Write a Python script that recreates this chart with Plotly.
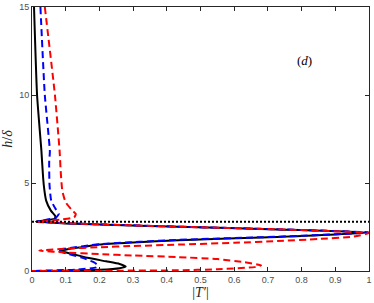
import plotly.graph_objects as go

# Black solid profile
black_x = [0.006, 0.015, 0.028, 0.033, 0.037, 0.042, 0.056, 0.068, 0.07, 0.05, 0.012, 0.03, 0.1, 0.2, 0.434, 0.728, 1.0,
           0.728, 0.434, 0.3, 0.2, 0.154, 0.105, 0.085, 0.115, 0.164, 0.22, 0.26, 0.278, 0.26, 0.2, 0.1, 0.0]
black_y = [15, 10, 6.8, 5.3, 4.55, 4.0, 3.43, 3.15, 3.0, 2.9, 2.81, 2.78, 2.7, 2.64, 2.51, 2.36, 2.18,
           1.93, 1.75, 1.62, 1.5, 1.37, 1.24, 1.14, 0.99, 0.75, 0.55, 0.4, 0.26, 0.16, 0.07, 0.02, 0.0]

# Blue dashed profile
blue_x = [0.025, 0.038, 0.053, 0.051, 0.052, 0.057, 0.071, 0.08, 0.072, 0.04, 0.015, 0.03, 0.1, 0.2, 0.434, 0.728, 1.0,
          0.728, 0.434, 0.2, 0.1, 0.075, 0.1, 0.15, 0.183, 0.195, 0.19, 0.13, 0.0]
blue_y = [15, 10, 6.8, 6.2, 4.9, 4.0, 3.5, 3.26, 3.05, 2.9, 2.82, 2.79, 2.72, 2.65, 2.52, 2.37, 2.19,
          1.95, 1.77, 1.52, 1.27, 1.18, 1.0, 0.75, 0.5, 0.33, 0.2, 0.08, 0.0]

# Red dashed profile
red_x = [0.038, 0.068, 0.082, 0.085, 0.09, 0.1, 0.12, 0.13, 0.125, 0.085, 0.03, 0.015, 0.1, 0.2, 0.434, 0.728, 1.0,
         0.95, 0.85, 0.728, 0.6, 0.434, 0.3, 0.2, 0.1, 0.022, 0.1, 0.2, 0.3, 0.434, 0.55, 0.63, 0.68, 0.66, 0.55,
         0.434, 0.2, 0.0]
red_y = [15, 10, 6.8, 5.7, 4.55, 3.9, 3.43, 3.24, 3.05, 2.92, 2.83, 2.79, 2.72, 2.65, 2.52, 2.37, 2.15,
         1.95, 1.82, 1.7, 1.6, 1.5, 1.42, 1.35, 1.27, 1.16, 1.05, 0.96, 0.88, 0.79, 0.68, 0.5, 0.32, 0.22, 0.1,
         0.04, 0.015, 0.0]

# Horizontal reference level
ref_level = 2.8
x_ticks = [0, 0.1, 0.2, 0.3, 0.4, 0.5, 0.6, 0.7, 0.8, 0.9, 1]
x_tick_labels = ["0", "0.1", "0.2", "0.3", "0.4", "0.5", "0.6", "0.7", "0.8", "0.9", "1"]
y_ticks = [0, 5, 10, 15]
y_tick_labels = ["0", "5", "10", "15"]

fig = go.Figure()
fig.add_trace(go.Scatter(x=black_x, y=black_y, mode="lines",
                         line=dict(color="black", width=2, shape="spline", smoothing=0.5)))
fig.add_trace(go.Scatter(x=blue_x, y=blue_y, mode="lines",
                         line=dict(color="#0000ff", width=2, dash="7px,4px", shape="spline", smoothing=0.5)))
fig.add_trace(go.Scatter(x=red_x, y=red_y, mode="lines",
                         line=dict(color="#ff0000", width=2, dash="7px,4px", shape="spline", smoothing=0.5)))
fig.add_trace(go.Scatter(x=[0, 1], y=[ref_level, ref_level], mode="lines",
                         line=dict(color="black", width=2, dash="2px,2px")))

axis_common = dict(showline=True, linecolor="#262626", linewidth=1, mirror="ticks", ticks="inside",
                   ticklen=4, tickcolor="#262626", showgrid=False, zeroline=False,
                   ticklabeloverflow="allow",
                   tickfont=dict(family="Liberation Sans, Arial", size=9, color="#4d4d4d"))

serif = "Liberation Serif, DejaVu Serif, serif"
fig.update_layout(
    width=374, height=303,
    margin=dict(l=32, r=2, t=4, b=32),
    plot_bgcolor="white", paper_bgcolor="white",
    showlegend=False,
    xaxis=dict(range=[0, 1], tickvals=x_ticks, ticktext=x_tick_labels,
               title=dict(text="|<i>T′</i>|", font=dict(family=serif, size=14, color="#262626"),
                          standoff=0),
               **axis_common),
    yaxis=dict(range=[0, 15], tickvals=y_ticks, ticktext=y_tick_labels,
               title=dict(text="<i>h</i>/<i>δ</i>", font=dict(family=serif, size=14, color="#262626"),
                          standoff=4),
               **axis_common),
    annotations=[dict(x=0.81, y=11.95, xref="x", yref="y", text="(<i>d</i>)", showarrow=False,
                      font=dict(family=serif, size=13, color="black"))],
)

fig.write_html("out.html", config={"displayModeBar": False},
               post_script="document.body.style.margin='0';document.body.style.padding='0';")
